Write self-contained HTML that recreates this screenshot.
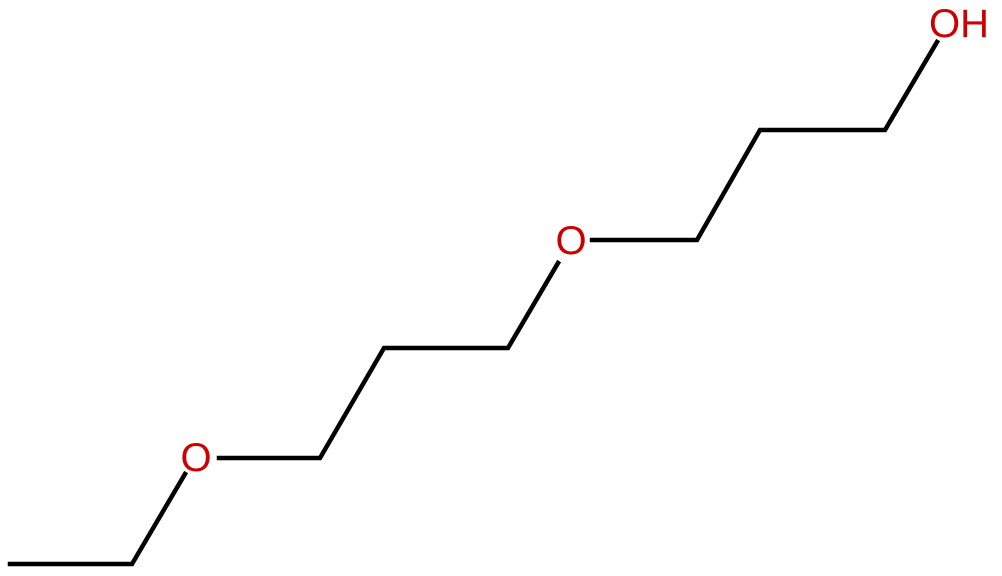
<!DOCTYPE html>
<html><head><style>html,body{margin:0;padding:0;background:#fff;}svg{display:block}</style></head>
<body>
<svg width="1002" height="576" viewBox="0 0 1002 576" xmlns="http://www.w3.org/2000/svg">
<g stroke="#000" stroke-width="4.5" fill="none" stroke-linecap="square" stroke-linejoin="miter">
<polyline points="10,564 132,564 185,474"/>
<polyline points="219,458 320,458 384,348 508,348 558,263"/>
<polyline points="592,240 697,240 760,130 885,130 937,42"/>
</g>
<g fill="#cc0000" font-family="Liberation Sans, sans-serif" font-size="40">
<text x="196" y="471" text-anchor="middle">O</text>
<text x="571" y="254" text-anchor="middle">O</text>
<text x="929" y="37">OH</text>
</g>
</svg>
</body></html>
